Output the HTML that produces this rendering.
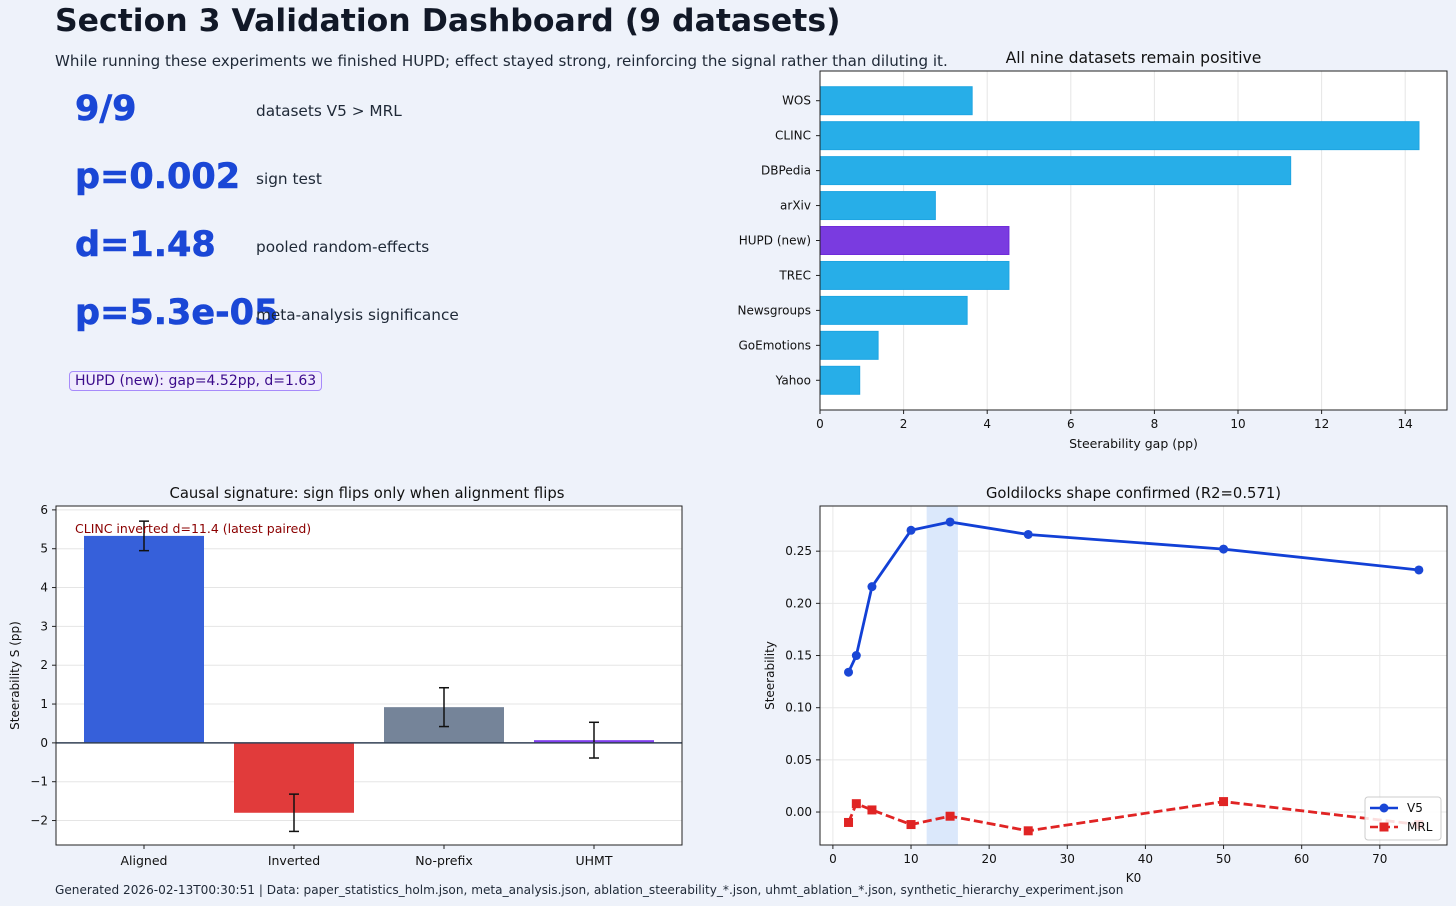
<!DOCTYPE html>
<html><head><meta charset="utf-8">
<style>
body{margin:0;width:1456px;height:906px;background:#eef2fa;font-family:"DejaVu Sans","Liberation Sans",sans-serif;overflow:hidden;position:relative;color:#111827}
.abs{position:absolute;white-space:nowrap}
.big{font-weight:bold;font-size:35px;color:#1a47d6;-webkit-text-stroke:0.6px #1a47d6}
.lbl{font-size:15.3px;color:#1f2937}
svg text{font-family:"DejaVu Sans","Liberation Sans",sans-serif}
</style></head><body>
<div class="abs" style="left:55px;top:3px;font-size:31.5px;font-weight:bold;color:#111827">Section 3 Validation Dashboard (9 datasets)</div>
<div class="abs" style="left:55px;top:52px;font-size:15.1px;color:#1f2937">While running these experiments we finished HUPD; effect stayed strong, reinforcing the signal rather than diluting it.</div>

<div class="abs big" style="left:75px;top:89px">9/9</div>
<div class="abs lbl" style="left:256px;top:102px">datasets V5 &gt; MRL</div>
<div class="abs big" style="left:75px;top:157px">p=0.002</div>
<div class="abs lbl" style="left:256px;top:170px">sign test</div>
<div class="abs big" style="left:75px;top:225px">d=1.48</div>
<div class="abs lbl" style="left:256px;top:238px">pooled random-effects</div>
<div class="abs big" style="left:75px;top:293px">p=5.3e-05</div>
<div class="abs lbl" style="left:256px;top:306px">meta-analysis significance</div>
<div class="abs" style="left:69px;top:371px;padding:1px 5px;font-size:14px;color:#3b0a8a;background:#f0ebfd;border:1px solid #a78bfa;border-radius:4px">HUPD (new): gap=4.52pp, d=1.63</div>

<div class="abs" style="left:55px;top:883px;font-size:12.1px;color:#1f2937">Generated 2026-02-13T00:30:51 | Data: paper_statistics_holm.json, meta_analysis.json, ablation_steerability_*.json, uhmt_ablation_*.json, synthetic_hierarchy_experiment.json</div>

<svg id="svg" width="1456" height="906" style="position:absolute;left:0;top:0" xmlns="http://www.w3.org/2000/svg"></svg>

<script>
// ---- Chart 1: steerability gap ----
const gapCategories = ["WOS","CLINC","DBPedia","arXiv","HUPD (new)","TREC","Newsgroups","GoEmotions","Yahoo"];
const gapValues = [3.64, 14.33, 11.26, 2.76, 4.52, 4.52, 3.52, 1.39, 0.95];
const gapTicks = [0,2,4,6,8,10,12,14];
// ---- Chart 2: causal signature ----
const causalCategories = ["Aligned","Inverted","No-prefix","UHMT"];
const causalValues = [5.33, -1.80, 0.92, 0.07];
const causalErrors = [0.38, 0.48, 0.50, 0.46];
const causalTicks = [-2,-1,0,1,2,3,4,5,6];
// ---- Chart 3: goldilocks ----
const kValues = [2,3,5,10,15,25,50,75];
const v5Values = [0.134,0.150,0.216,0.270,0.278,0.266,0.252,0.232];
const mrlValues = [-0.010,0.008,0.002,-0.012,-0.004,-0.018,0.010,-0.012];
const kTicks = [0,10,20,30,40,50,60,70];
const steerTicks = [0.00,0.05,0.10,0.15,0.20,0.25];
const bandRange = [12,16];

const svg = document.getElementById('svg');
const NS = 'http://www.w3.org/2000/svg';
function mk(tag, attrs, parent){const e=document.createElementNS(NS,tag);for(const k in attrs)e.setAttribute(k,attrs[k]);(parent||svg).appendChild(e);return e;}
function txt(s, attrs, parent){const e=mk('text',attrs,parent);e.textContent=s;return e;}

// ===== Chart 1 =====
(function(){
  const L=820,R=1447,T=71,B=410, xmin=0,xmax=15.0;
  const n=gapCategories.length;
  // categorical y-axis with matplotlib-style margins: index -0.6 .. n-0.4
  const yc=i=>T+(i+0.85)/(n+0.7)*(B-T);
  const step=(B-T)/(n+0.7);
  const g=mk('g',{});
  
  
  mk('rect',{x:L,y:T,width:R-L,height:B-T,fill:'#fff'},g);
  const x=v=>L+(v-xmin)/(xmax-xmin)*(R-L);
  gapTicks.forEach(t=>{
    mk('line',{x1:x(t),x2:x(t),y1:T,y2:B,stroke:'#e5e5e5','stroke-width':1},g);
    mk('line',{x1:x(t),x2:x(t),y1:B,y2:B+4,stroke:'#222'},g);
    const tl=txt(String(t),{x:x(t),y:B+18,'font-size':12,'text-anchor':'middle',fill:'#111'},g);
    
    
  });
  gapCategories.forEach((c,i)=>{
    const cy=yc(i);
    const hu=c.indexOf('HUPD')>=0;
    const r=mk('rect',{x:L,y:cy-step*0.4,width:x(gapValues[i])-L,height:step*0.8,fill:hu?'#7a3be0':'#27aee8',stroke:hu?'#6d28d9':'#1ea5e2','stroke-width':1},g);
    
    
    mk('line',{x1:L-4,x2:L,y1:cy,y2:cy,stroke:'#222'},g);
    const tl=txt(c,{x:L-9,y:cy+4,'font-size':12,'text-anchor':'end',fill:'#111'},g);
    
    
  });
  mk('rect',{x:L,y:T,width:R-L,height:B-T,fill:'none',stroke:'#222','stroke-width':1},g);
  const ti=txt('All nine datasets remain positive',{x:(L+R)/2,y:T-8,'font-size':15.6,'text-anchor':'middle',fill:'#111'},g);
  
  
  const xl=txt('Steerability gap (pp)',{x:(L+R)/2,y:B+38,'font-size':12.5,'text-anchor':'middle',fill:'#111'},g);
  
  
})();

// ===== Chart 2 =====
(function(){
  const L=56,R=682,T=506,B=845, ymin=-2.63,ymax=6.1;
  const g=mk('g',{});
  
  
  mk('rect',{x:L,y:T,width:R-L,height:B-T,fill:'#fff'},g);
  const y=v=>B-(v-ymin)/(ymax-ymin)*(B-T);
  causalTicks.forEach(t=>{
    mk('line',{x1:L,x2:R,y1:y(t),y2:y(t),stroke:'#e5e5e5'},g);
    mk('line',{x1:L-4,x2:L,y1:y(t),y2:y(t),stroke:'#222'},g);
    const tl=txt(t<0?'\u2212'+Math.abs(t):String(t),{x:L-8,y:y(t)+4,'font-size':12,'text-anchor':'end',fill:'#111'},g);
    
    
  });
  const colors=['#2f5bd9','#e03535','#718096','#7c3aed'];
  const step=150, x0=144;
  causalCategories.forEach((c,i)=>{
    const cx=x0+i*step, v=causalValues[i], e=causalErrors[i];
    const r=mk('rect',{x:cx-60,y:Math.min(y(v),y(0)),width:120,height:Math.abs(y(v)-y(0)),fill:colors[i],opacity:0.97},g);
    
    
    mk('line',{x1:cx,x2:cx,y1:y(v+e),y2:y(v-e),stroke:'#111','stroke-width':1.5},g);
    mk('line',{x1:cx-5,x2:cx+5,y1:y(v+e),y2:y(v+e),stroke:'#111','stroke-width':1.5},g);
    mk('line',{x1:cx-5,x2:cx+5,y1:y(v-e),y2:y(v-e),stroke:'#111','stroke-width':1.5},g);
    mk('line',{x1:cx,x2:cx,y1:B,y2:B+4,stroke:'#222'},g);
    const tl=txt(c,{x:cx,y:B+20,'font-size':12.5,'text-anchor':'middle',fill:'#111'},g);
    
    
  });
  mk('line',{x1:L,x2:R,y1:y(0),y2:y(0),stroke:'#334155','stroke-width':1.5},g);
  mk('rect',{x:L,y:T,width:R-L,height:B-T,fill:'none',stroke:'#222'},g);
  const an=txt('CLINC inverted d=11.4 (latest paired)',{x:75,y:533,'font-size':12.5,fill:'#8b0000'},g);
  
  
  const ti=txt('Causal signature: sign flips only when alignment flips',{x:(L+R)/2-2,y:T-8,'font-size':14.8,'text-anchor':'middle',fill:'#111'},g);
  
  
  const yl=txt('Steerability S (pp)',{x:19,y:(T+B)/2,'font-size':12,'text-anchor':'middle',fill:'#111',transform:'rotate(-90 19 '+((T+B)/2)+')'},g);
  
  
})();

// ===== Chart 3 =====
(function(){
  const L=820,R=1447,T=506,B=845, xmin=-1.65,xmax=78.6, ymin=-0.0316,ymax=0.2933;
  const g=mk('g',{});
  
  
  mk('rect',{x:L,y:T,width:R-L,height:B-T,fill:'#fff'},g);
  const x=v=>L+(v-xmin)/(xmax-xmin)*(R-L);
  const y=v=>B-(v-ymin)/(ymax-ymin)*(B-T);
  kTicks.forEach(t=>{
    mk('line',{x1:x(t),x2:x(t),y1:T,y2:B,stroke:'#e8e8e8'},g);
    mk('line',{x1:x(t),x2:x(t),y1:B,y2:B+4,stroke:'#222'},g);
    const tl=txt(String(t),{x:x(t),y:B+18,'font-size':12,'text-anchor':'middle',fill:'#111'},g);
    
    
  });
  steerTicks.forEach(t=>{
    mk('line',{x1:L,x2:R,y1:y(t),y2:y(t),stroke:'#e8e8e8'},g);
    mk('line',{x1:L-4,x2:L,y1:y(t),y2:y(t),stroke:'#222'},g);
    const tl=txt(t.toFixed(2),{x:L-8,y:y(t)+4,'font-size':12,'text-anchor':'end',fill:'#111'},g);
    
    
  });
  const band=mk('rect',{x:x(bandRange[0]),y:T,width:x(bandRange[1])-x(bandRange[0]),height:B-T,fill:'#dbe8fb'},g);
  
  
  const v5=mk('polyline',{points:kValues.map((k,i)=>x(k)+','+y(v5Values[i])).join(' '),fill:'none',stroke:'#1240d6','stroke-width':2.8},g);
  
  
  kValues.forEach((k,i)=>{
    const c=mk('circle',{cx:x(k),cy:y(v5Values[i]),r:4.5,fill:'#1a47d6'},g);
    
    
  });
  const mr=mk('polyline',{points:kValues.map((k,i)=>x(k)+','+y(mrlValues[i])).join(' '),fill:'none',stroke:'#e02424','stroke-width':2.8,'stroke-dasharray':'9,4'},g);
  
  
  kValues.forEach((k,i)=>{
    const s=mk('rect',{x:x(k)-4.5,y:y(mrlValues[i])-4.5,width:9,height:9,fill:'#e02424'},g);
    
    
  });
  mk('rect',{x:L,y:T,width:R-L,height:B-T,fill:'none',stroke:'#222'},g);
  const lg=mk('g',{},g);
  
  
  mk('rect',{x:1365,y:797,width:76,height:43,rx:3,fill:'#fff','fill-opacity':0.85,stroke:'#ccc'},lg);
  mk('line',{x1:1370,x2:1398,y1:808,y2:808,stroke:'#1240d6','stroke-width':2.5},lg);
  mk('circle',{cx:1384,cy:808,r:4.5,fill:'#1a47d6'},lg);
  txt('V5',{x:1407,y:812,'font-size':12,fill:'#111'},lg);
  mk('line',{x1:1370,x2:1398,y1:827,y2:827,stroke:'#e02424','stroke-width':2.5,'stroke-dasharray':'8,4'},lg);
  mk('rect',{x:1379.5,y:822.5,width:9,height:9,fill:'#e02424'},lg);
  txt('MRL',{x:1407,y:831,'font-size':12,fill:'#111'},lg);
  const ti=txt('Goldilocks shape confirmed (R2=0.571)',{x:(L+R)/2,y:T-8,'font-size':14.8,'text-anchor':'middle',fill:'#111'},g);
  
  
  const xl=txt('K0',{x:(L+R)/2,y:B+37,'font-size':12,'text-anchor':'middle',fill:'#111'},g);
  
  
  const yl=txt('Steerability',{x:774,y:(T+B)/2,'font-size':12,'text-anchor':'middle',fill:'#111',transform:'rotate(-90 774 '+((T+B)/2)+')'},g);
  
  
})();
</script>
</body></html>
